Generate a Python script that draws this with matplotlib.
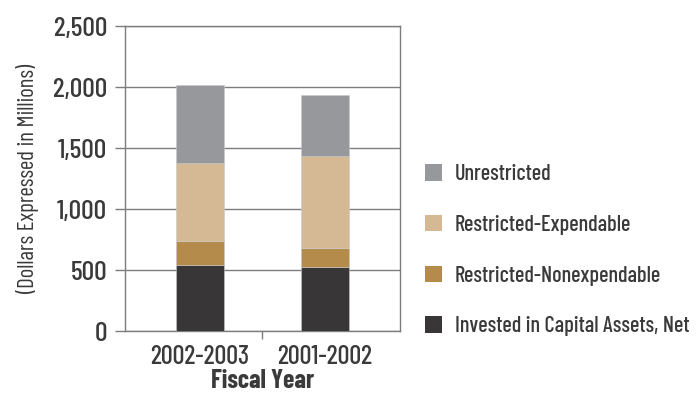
import matplotlib
matplotlib.use('Agg')
import matplotlib.pyplot as plt
from matplotlib.patches import Patch

plt.rcParams['font.family'] = ['Barlow Condensed', 'DejaVu Sans']
plt.rcParams['font.weight'] = 'medium'

# Net assets by fiscal year, millions of dollars
years = ['2002-2003', '2001-2002']
invested = [544, 521]
nonexpendable = [197, 157]
expendable = [640, 753]
unrestricted = [635, 503]

series = [
    ('Invested in Capital Assets, Net', invested, '#383637'),
    ('Restricted-Nonexpendable', nonexpendable, '#b58b4c'),
    ('Restricted-Expendable', expendable, '#d5b995'),
    ('Unrestricted', unrestricted, '#97989b'),
]

text_color = '#3b3a3a'
line_color = '#7d7d7d'

fig = plt.figure(figsize=(6.99, 3.96), dpi=100)
ax = fig.add_axes([0.1788, 0.1641, 0.3934, 0.7702])

x = range(len(years))
bottom = [0] * len(years)
handles = []
for name, vals, color in series:
    ax.bar(x, vals, width=0.385, bottom=bottom, color=color,
           edgecolor='#c8c8c8', linewidth=0.4, zorder=3)
    bottom = [b + v for b, v in zip(bottom, vals)]
    handles.append(Patch(facecolor=color, edgecolor='none', label=name))

ax.set_xlim(-0.6, 1.6)
ax.set_ylim(0, 2500)
ax.set_yticks(range(0, 2501, 500))
ax.set_yticklabels([f'{v:,}' for v in range(0, 2501, 500)])
ax.yaxis.grid(True, color=line_color, linewidth=1.0, zorder=0)

# Category labels centered under bars, tick mark between them
ax.set_xticks([0.5])
ax.set_xticklabels([''])
ax.set_xticks([0, 1], minor=True)
ax.set_xticklabels(years, minor=True)
ax.tick_params(axis='x', which='minor', length=0, pad=10,
               labelsize=19, labelcolor=text_color)
ax.tick_params(axis='x', which='major', length=6, width=1, color=line_color)
ax.tick_params(axis='y', length=7, width=1, color=line_color, pad=6,
               labelsize=20, labelcolor=text_color)

for s in ax.spines.values():
    s.set_color(line_color)
    s.set_linewidth(1.0)

ax.set_xlabel('Fiscal Year', fontsize=18.5, fontweight='bold',
              color=text_color, labelpad=0)
ax.set_ylabel('(Dollars Expressed in Millions)', fontsize=16.5,
              color=text_color, labelpad=10)

fig.legend(handles[::-1], [h.get_label() for h in handles[::-1]],
           loc='upper left', bbox_to_anchor=(0.608, 0.585), frameon=False,
           borderpad=0, borderaxespad=0,
           handlelength=0.75, handleheight=0.75, handletextpad=0.6,
           labelspacing=1.38, fontsize=16, labelcolor=text_color)

fig.savefig('out.png', dpi=100)
